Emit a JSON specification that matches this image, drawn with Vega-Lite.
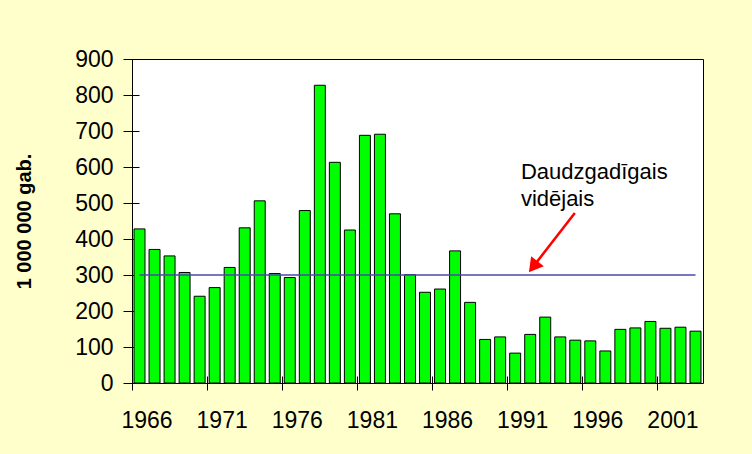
{
  "$schema": "https://vega.github.io/schema/vega-lite/v6.json",
  "width": 571,
  "height": 324,
  "autosize": {"type": "none"},
  "padding": {"left": 132, "top": 59, "right": 49, "bottom": 71},
  "background": "#FFFFCC",
  "config": {
    "view": {"fill": "white", "stroke": "black", "strokeWidth": 1},
    "font": "Liberation Sans",
    "axis": {"labelFont": "Liberation Sans", "titleFont": "Liberation Sans", "labelColor": "black", "titleColor": "black", "tickColor": "black", "grid": false, "labelOverlap": false, "labelBound": false},
    "axisX": {"labelFontSize": 23, "labelPadding": 19, "tickSize": 14, "domain": false, "labelAngle": 0},
    "axisY": {"labelFontSize": 23, "labelPadding": 10, "tickSize": 16, "domain": false, "tickCount": 10}
  },
  "datasets": {
    "catch": [
      {"year": 1966, "value": 428}, {"year": 1967, "value": 371}, {"year": 1968, "value": 353},
      {"year": 1969, "value": 307}, {"year": 1970, "value": 241}, {"year": 1971, "value": 265},
      {"year": 1972, "value": 321}, {"year": 1973, "value": 431}, {"year": 1974, "value": 506},
      {"year": 1975, "value": 304}, {"year": 1976, "value": 293}, {"year": 1977, "value": 479},
      {"year": 1978, "value": 827}, {"year": 1979, "value": 613}, {"year": 1980, "value": 425},
      {"year": 1981, "value": 688}, {"year": 1982, "value": 691}, {"year": 1983, "value": 470},
      {"year": 1984, "value": 301}, {"year": 1985, "value": 252}, {"year": 1986, "value": 261},
      {"year": 1987, "value": 367}, {"year": 1988, "value": 224}, {"year": 1989, "value": 121},
      {"year": 1990, "value": 128}, {"year": 1991, "value": 83}, {"year": 1992, "value": 135},
      {"year": 1993, "value": 183}, {"year": 1994, "value": 128}, {"year": 1995, "value": 119},
      {"year": 1996, "value": 117}, {"year": 1997, "value": 89}, {"year": 1998, "value": 149},
      {"year": 1999, "value": 153}, {"year": 2000, "value": 171}, {"year": 2001, "value": 152},
      {"year": 2002, "value": 155}, {"year": 2003, "value": 144}
    ],
    "avg": [{"from": 1966, "to": 2003, "value": 300}],
    "arrow": [{"x": 1994.97, "y": 472, "x2": 1992.25, "y2": 326}],
    "head": [{"x": 1992.2, "y": 323}],
    "note": [{"x": 1991.38, "y": 566, "label": "Daudzgadīgais\nvidējais"}]
  },
  "layer": [
    {
      "data": {"name": "catch"},
      "mark": {"type": "bar", "color": "#00FF00", "stroke": "black", "strokeWidth": 1, "width": {"band": 0.73}},
      "encoding": {
        "x": {
          "field": "year", "type": "ordinal",
          "scale": {"paddingInner": 0, "paddingOuter": 0},
          "axis": {
            "title": null,
            "values": [1966, 1971, 1976, 1981, 1986, 1991, 1996, 2001],
            "bandPosition": 0,
            "labelOffset": 7.5,
            "labelAngle": 0,
            "domain": false,
            "offset": -7,
            "tickSize": 14,
            "labelFontSize": 23,
            "labelPadding": 19
          }
        },
        "y": {
          "field": "value", "type": "quantitative",
          "scale": {"domain": [0, 900], "nice": false},
          "axis": {
            "title": "1 000 000 gab.",
            "values": [0, 100, 200, 300, 400, 500, 600, 700, 800, 900],
            "domain": false,
            "offset": -7,
            "tickSize": 16,
            "labelFontSize": 23,
            "labelPadding": 10,
            "labelOverlap": false,
            "titleFontSize": 20,
            "titleFontWeight": "bold",
            "titlePadding": 40
          }
        }
      }
    },
    {
      "data": {"name": "avg"},
      "mark": {"type": "rule", "color": "#4848AE", "strokeWidth": 1.5},
      "encoding": {
        "x": {"field": "from", "type": "quantitative", "scale": {"domain": [1965.5, 2003.5], "nice": false, "zero": false}, "axis": null},
        "x2": {"field": "to"},
        "y": {"field": "value", "type": "quantitative"}
      }
    },
    {
      "data": {"name": "arrow"},
      "mark": {"type": "rule", "color": "#FF0000", "strokeWidth": 2.5},
      "encoding": {
        "x": {"field": "x", "type": "quantitative", "scale": {"domain": [1965.5, 2003.5], "nice": false, "zero": false}, "axis": null},
        "x2": {"field": "x2"},
        "y": {"field": "y", "type": "quantitative"},
        "y2": {"field": "y2"}
      }
    },
    {
      "data": {"name": "head"},
      "mark": {"type": "point", "shape": "triangle-up", "filled": true, "color": "#FF0000", "size": 260, "angle": 218, "opacity": 1, "strokeWidth": 0},
      "encoding": {
        "x": {"field": "x", "type": "quantitative", "scale": {"domain": [1965.5, 2003.5], "nice": false, "zero": false}, "axis": null},
        "y": {"field": "y", "type": "quantitative"}
      }
    },
    {
      "data": {"name": "note"},
      "mark": {"type": "text", "align": "left", "baseline": "alphabetic", "fontSize": 22, "lineBreak": "\n", "lineHeight": 27, "color": "black", "font": "Liberation Sans"},
      "encoding": {
        "x": {"field": "x", "type": "quantitative", "scale": {"domain": [1965.5, 2003.5], "nice": false, "zero": false}, "axis": null},
        "y": {"field": "y", "type": "quantitative"},
        "text": {"field": "label"}
      }
    }
  ],
  "resolve": {"scale": {"x": "independent"}}
}
